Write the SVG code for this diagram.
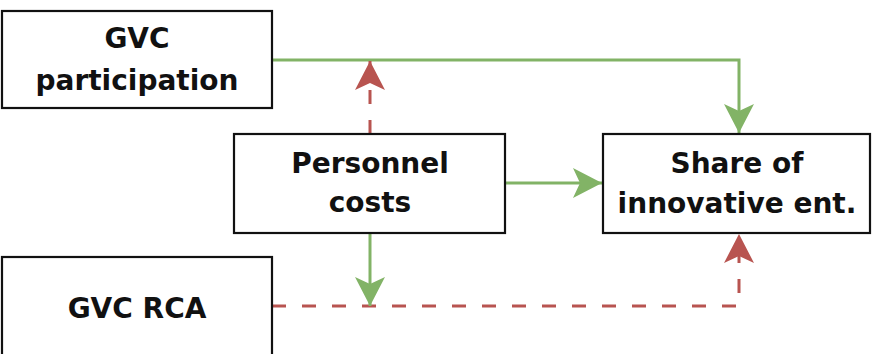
<svg xmlns="http://www.w3.org/2000/svg" width="872" height="354" viewBox="0 0 872 354">
  <style>
    .box { fill: #ffffff; stroke: #111111; stroke-width: 2.2; }
    .label { font-family: "DejaVu Sans", "Liberation Sans", sans-serif; font-weight: bold; font-size: 28px; fill: #111111; text-anchor: middle; }
    .pos { fill: none; stroke: #82b366; stroke-width: 3; }
    .neg { fill: none; stroke: #b85450; stroke-width: 3; stroke-dasharray: 14 16; }
  </style>
  <defs>
    <marker id="arrow-green" markerUnits="userSpaceOnUse" viewBox="0 -16 30 32" markerWidth="30" markerHeight="32" refX="29" refY="0" orient="auto">
      <path d="M0,-15 L29,0 L0,15 L7,0 Z" fill="#82b366"/>
    </marker>
    <marker id="arrow-red" markerUnits="userSpaceOnUse" viewBox="0 -16 30 32" markerWidth="30" markerHeight="32" refX="29" refY="0" orient="auto">
      <path d="M0,-15 L29,0 L0,15 L7,0 Z" fill="#b85450"/>
    </marker>
  </defs>

  <g id="connectors">
    <path class="pos" d="M272,60 H739 V133" marker-end="url(#arrow-green)"/>
    <path class="pos" d="M505,183 H602" marker-end="url(#arrow-green)"/>
    <path class="neg" d="M370,134 V61" marker-end="url(#arrow-red)"/>
    <path class="neg" d="M272,306 H739 V234" marker-end="url(#arrow-red)"/>
    <path class="pos" d="M370,233 V306" marker-end="url(#arrow-green)"/>
  </g>

  <g id="gvc-participation">
    <rect class="box" x="2" y="11" width="270" height="97"/>
    <text class="label" x="137" y="48">GVC</text>
    <text class="label" x="137" y="90">participation</text>
  </g>

  <g id="personnel-costs">
    <rect class="box" x="234" y="134" width="271" height="99"/>
    <text class="label" x="370" y="173">Personnel</text>
    <text class="label" x="370" y="212">costs</text>
  </g>

  <g id="share-innovative">
    <rect class="box" x="603" y="134" width="267" height="99"/>
    <text class="label" x="737" y="173">Share of</text>
    <text class="label" x="737" y="213">innovative ent.</text>
  </g>

  <g id="gvc-rca">
    <rect class="box" x="2" y="257" width="270" height="99"/>
    <text class="label" x="137" y="318">GVC RCA</text>
  </g>
</svg>
